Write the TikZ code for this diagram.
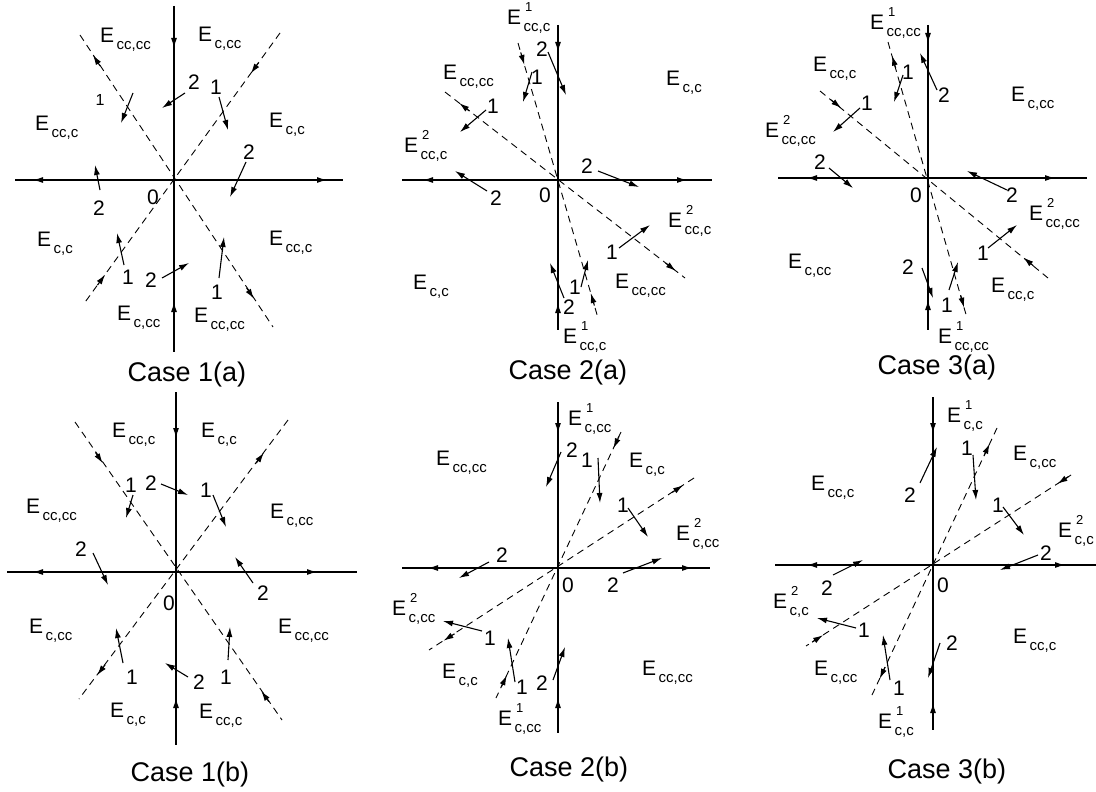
\documentclass[tikz,border=0pt]{standalone}
\usepackage{fontspec}
\setmainfont{Liberation Sans}
\usetikzlibrary{arrows.meta,calc}
\newcommand\Elab[2]{E\hspace{2.5pt}\rlap{\hspace{1.5pt}\raisebox{13pt}{\fontsize{13}{13}\selectfont #2}}\raisebox{-7pt}{\fontsize{15}{15}\selectfont #1}}
\newcommand\darrout[3]{\path ($(#1)!(#3)!(#2)$) coordinate (tmp); \draw[arr] ($(tmp)!13pt!(#1)$) -- (tmp);}
\newcommand\darrin[3]{\path ($(#1)!(#3)!(#2)$) coordinate (tmp); \draw[arr] ($(tmp)!13pt!(#2)$) -- (tmp);}
\tikzset{
  axis/.style={line width=1.2pt, black},
  dl/.style={line width=0.9pt, dash pattern=on 7pt off 5pt},
  arr/.style={line width=1.1pt, -{Latex[length=10pt,width=6pt]}},
  num/.style={inner sep=0pt, font=\fontsize{21}{21}\selectfont},
  elab/.style={anchor=base west, inner sep=0pt, font=\fontsize{21}{21}\selectfont},
  capt/.style={inner sep=0pt, font=\fontsize{27}{27}\selectfont}
}
\begin{document}
\begin{tikzpicture}[x=1pt,y=-1pt]
\useasboundingbox (0,0) rectangle (1096,792);
% ================= Case 1(a)
\coordinate (O) at (174,180);
\draw[axis] (174,6) -- (174,352);
\draw[axis] (15,180) -- (343,180);
\draw[arr] (45,180) -- (33,180);
\draw[arr] (315,180) -- (327,180);
\draw[arr] (174,36) -- (174,48);
\draw[arr] (174,314) -- (174,302);
\coordinate (A) at (80,35); \coordinate (B) at (273,327);
\coordinate (C) at (280,33); \coordinate (D) at (83,305);
\draw[dl] (A) -- (B); \draw[dl] (C) -- (D);
\darrout{O}{A}{93,55}
\darrin{O}{C}{253,75}
\darrin{O}{D}{103,273}
\darrout{O}{B}{255,298}
\draw[arr] (133,93) -- (121,123);
\draw[arr] (185,93) -- (162,108);
\draw[arr] (219,97) -- (228,130);
\draw[arr] (246,162) -- (230,197);
\draw[arr] (100,190) -- (95,165);
\draw[arr] (124,265) -- (117,233);
\draw[arr] (162,278) -- (189,263);
\draw[arr] (219,278) -- (224,237);
\node[num] (a1n1) at (100,100) {\fontsize{16}{16}\selectfont 1};
\node[num] (a1n2) at (194,82) {2};
\node[num] (a1n3) at (216,87) {1};
\node[num] (a1n4) at (249,152) {2};
\node[num] (a1n5) at (99,208) {2};
\node[num] (a1n6) at (128,277) {1};
\node[num] (a1n7) at (151,280) {2};
\node[num] (a1n8) at (217,292) {1};
\node[num] (a1n0) at (153,197) {0};
\node[elab] (a1e1) at (100,43) {\Elab{cc,cc}{}};
\node[elab] (a1e2) at (198,42) {\Elab{c,cc}{}};
\node[elab] (a1e3) at (35,131) {\Elab{cc,c}{}};
\node[elab] (a1e4) at (269,128) {\Elab{c,c}{}};
\node[elab] (a1e5) at (37,246) {\Elab{c,c}{}};
\node[elab] (a1e6) at (269,245) {\Elab{cc,c}{}};
\node[elab] (a1e7) at (117,320) {\Elab{c,cc}{}};
\node[elab] (a1e8) at (194,322) {\Elab{cc,cc}{}};
\node[capt] (a1c) at (187,375) {Case 1(a)};
% ================= Case 2(a)
\coordinate (O) at (558,180);
\draw[axis] (558,25) -- (558,330);
\draw[axis] (402,180) -- (712,180);
\draw[arr] (435,180) -- (423,180);
\draw[arr] (675,180) -- (687,180);
\draw[arr] (558,40) -- (558,52);
\draw[arr] (558,315) -- (558,303);
\coordinate (A) at (518,43); \coordinate (B) at (598,318);
\coordinate (C) at (445,92); \coordinate (D) at (685,278);
\draw[dl] (A) -- (B); \draw[dl] (C) -- (D);
\darrin{O}{A}{524,65}
\darrout{O}{C}{460,102}
\darrout{O}{D}{675,272}
\darrin{O}{B}{591,293}
\draw[arr] (548,52) -- (566,95);
\draw[arr] (532,72) -- (523,102);
\draw[arr] (486,110) -- (460,132);
\draw[arr] (598,171) -- (639,187);
\draw[arr] (487,191) -- (455,171);
\draw[arr] (619,248) -- (650,225);
\draw[arr] (581,287) -- (588,260);
\draw[arr] (564,298) -- (550,263);
\node[num] (a2n1) at (542,49) {2};
\node[num] (a2n2) at (537,77) {1};
\node[num] (a2n3) at (493,106) {1};
\node[num] (a2n4) at (587,166) {2};
\node[num] (a2n5) at (496,198) {2};
\node[num] (a2n6) at (612,252) {1};
\node[num] (a2n7) at (575,287) {1};
\node[num] (a2n8) at (569,307) {2};
\node[num] (a2n0) at (545,195) {0};
\node[elab] (a2e1) at (507,25) {\Elab{cc,c}{1}};
\node[elab] (a2e2) at (443,80) {\Elab{cc,cc}{}};
\node[elab] (a2e3) at (404,152) {\Elab{cc,c}{2}};
\node[elab] (a2e4) at (666,85) {\Elab{c,c}{}};
\node[elab] (a2e5) at (668,227) {\Elab{cc,c}{2}};
\node[elab] (a2e6) at (615,288) {\Elab{cc,cc}{}};
\node[elab] (a2e7) at (413,289) {\Elab{c,c}{}};
\node[elab] (a2e8) at (563,343) {\Elab{cc,c}{1}};
\node[capt] (a2c) at (568,373) {Case 2(a)};
% ================= Case 3(a)
\coordinate (O) at (928,178);
\draw[axis] (928,25) -- (928,330);
\draw[axis] (778,178) -- (1087,178);
\draw[arr] (819,178) -- (807,178);
\draw[arr] (1043,178) -- (1055,178);
\draw[arr] (928,31) -- (928,43);
\draw[arr] (928,312) -- (928,300);
\coordinate (A) at (888,42); \coordinate (B) at (967,318);
\coordinate (C) at (820,91); \coordinate (D) at (1048,278);
\draw[dl] (A) -- (B); \draw[dl] (C) -- (D);
\darrout{O}{A}{894,55}
\darrin{O}{C}{842,107}
\darrin{O}{D}{1023,258}
\darrout{O}{B}{963,308}
\draw[arr] (937,90) -- (920,53);
\draw[arr] (903,75) -- (894,102);
\draw[arr] (860,108) -- (833,132);
\draw[arr] (829,168) -- (853,188);
\draw[arr] (1007,190) -- (967,171);
\draw[arr] (988,248) -- (1017,225);
\draw[arr] (922,268) -- (933,298);
\draw[arr] (949,290) -- (958,262);
\node[num] (a3n1) at (944,95) {2};
\node[num] (a3n2) at (908,72) {1};
\node[num] (a3n3) at (867,103) {1};
\node[num] (a3n4) at (820,162) {2};
\node[num] (a3n5) at (1012,195) {2};
\node[num] (a3n6) at (983,253) {1};
\node[num] (a3n7) at (908,267) {2};
\node[num] (a3n8) at (947,305) {1};
\node[num] (a3n0) at (916,195) {0};
\node[elab] (a3e1) at (870,30) {\Elab{cc,cc}{1}};
\node[elab] (a3e2) at (813,72) {\Elab{cc,c}{}};
\node[elab] (a3e3) at (765,137) {\Elab{cc,cc}{2}};
\node[elab] (a3e4) at (1011,102) {\Elab{c,cc}{}};
\node[elab] (a3e5) at (1029,220) {\Elab{cc,cc}{2}};
\node[elab] (a3e6) at (991,292) {\Elab{cc,c}{}};
\node[elab] (a3e7) at (788,268) {\Elab{c,cc}{}};
\node[elab] (a3e8) at (938,343) {\Elab{cc,cc}{1}};
\node[capt] (a3c) at (937,368) {Case 3(a)};
% ================= Case 1(b)
\coordinate (O) at (176,572);
\draw[axis] (176,392) -- (176,745);
\draw[axis] (7,572) -- (357,572);
\draw[arr] (45,572) -- (33,572);
\draw[arr] (305,572) -- (317,572);
\draw[arr] (176,426) -- (176,438);
\draw[arr] (176,710) -- (176,698);
\coordinate (A) at (75,422); \coordinate (B) at (282,720);
\coordinate (C) at (288,420); \coordinate (D) at (79,699);
\draw[dl] (A) -- (B); \draw[dl] (C) -- (D);
\darrin{O}{A}{103,463}
\darrout{O}{C}{263,452}
\darrout{O}{D}{97,675}
\darrin{O}{B}{260,692}
\draw[arr] (133,495) -- (126,518);
\draw[arr] (161,484) -- (188,495);
\draw[arr] (213,495) -- (226,527);
\draw[arr] (93,553) -- (108,585);
\draw[arr] (253,583) -- (235,557);
\draw[arr] (123,663) -- (116,628);
\draw[arr] (188,677) -- (165,663);
\draw[arr] (228,660) -- (230,627);
\node[num] (b1n1) at (131,485) {1};
\node[num] (b1n2) at (151,483) {2};
\node[num] (b1n3) at (206,490) {1};
\node[num] (b1n4) at (81,549) {2};
\node[num] (b1n5) at (263,593) {2};
\node[num] (b1n6) at (132,677) {1};
\node[num] (b1n7) at (199,682) {2};
\node[num] (b1n8) at (226,677) {1};
\node[num] (b1n0) at (169,603) {0};
\node[elab] (b1e1) at (112,437) {\Elab{cc,c}{}};
\node[elab] (b1e2) at (201,437) {\Elab{c,c}{}};
\node[elab] (b1e3) at (26,513) {\Elab{cc,cc}{}};
\node[elab] (b1e4) at (270,518) {\Elab{c,cc}{}};
\node[elab] (b1e5) at (29,633) {\Elab{c,cc}{}};
\node[elab] (b1e6) at (278,633) {\Elab{cc,cc}{}};
\node[elab] (b1e7) at (110,717) {\Elab{c,c}{}};
\node[elab] (b1e8) at (199,718) {\Elab{cc,c}{}};
\node[capt] (b1c) at (190,775) {Case 1(b)};
% ================= Case 2(b)
\coordinate (O) at (558,568);
\draw[axis] (558,402) -- (558,733);
\draw[axis] (402,568) -- (710,568);
\draw[arr] (440,568) -- (428,568);
\draw[arr] (680,568) -- (692,568);
\draw[arr] (558,421) -- (558,433);
\draw[arr] (558,710) -- (558,698);
\coordinate (A) at (621,432); \coordinate (B) at (496,698);
\coordinate (C) at (694,478); \coordinate (D) at (429,650);
\draw[dl] (A) -- (B); \draw[dl] (C) -- (D);
\darrin{O}{A}{613,448}
\darrout{O}{C}{683,485}
\darrout{O}{D}{443,640}
\darrin{O}{B}{506,675}
\draw[arr] (561,452) -- (546,487);
\draw[arr] (598,458) -- (600,503);
\draw[arr] (628,508) -- (648,537);
\draw[arr] (489,562) -- (459,578);
\draw[arr] (623,573) -- (662,558);
\draw[arr] (482,631) -- (443,621);
\draw[arr] (515,682) -- (508,638);
\draw[arr] (553,680) -- (565,647);
\node[num] (b2n1) at (572,450) {2};
\node[num] (b2n2) at (587,460) {1};
\node[num] (b2n3) at (623,505) {1};
\node[num] (b2n4) at (502,555) {2};
\node[num] (b2n5) at (613,585) {2};
\node[num] (b2n6) at (490,638) {1};
\node[num] (b2n7) at (522,687) {1};
\node[num] (b2n8) at (542,683) {2};
\node[num] (b2n0) at (568,585) {0};
\node[elab] (b2e1) at (568,425) {\Elab{c,cc}{1}};
\node[elab] (b2e2) at (436,465) {\Elab{cc,cc}{}};
\node[elab] (b2e3) at (629,467) {\Elab{c,c}{}};
\node[elab] (b2e4) at (676,540) {\Elab{c,cc}{2}};
\node[elab] (b2e5) at (392,615) {\Elab{c,cc}{2}};
\node[elab] (b2e6) at (442,678) {\Elab{c,c}{}};
\node[elab] (b2e7) at (642,675) {\Elab{cc,cc}{}};
\node[elab] (b2e8) at (498,725) {\Elab{c,cc}{1}};
\node[capt] (b2c) at (569,770) {Case 2(b)};
% ================= Case 3(b)
\coordinate (O) at (933,565);
\draw[axis] (933,397) -- (933,730);
\draw[axis] (775,565) -- (1096,565);
\draw[arr] (819,565) -- (807,565);
\draw[arr] (1053,565) -- (1065,565);
\draw[arr] (933,421) -- (933,433);
\draw[arr] (933,715) -- (933,703);
\coordinate (A) at (997,428); \coordinate (B) at (872,695);
\coordinate (C) at (1071,475); \coordinate (D) at (806,646);
\draw[dl] (A) -- (B); \draw[dl] (C) -- (D);
\darrout{O}{A}{988,443}
\darrin{O}{C}{1057,483}
\darrin{O}{D}{823,635}
\darrout{O}{B}{878,678}
\draw[arr] (920,483) -- (937,447);
\draw[arr] (973,455) -- (976,500);
\draw[arr] (1003,507) -- (1024,535);
\draw[arr] (1038,555) -- (1000,570);
\draw[arr] (833,575) -- (863,560);
\draw[arr] (856,628) -- (817,618);
\draw[arr] (890,680) -- (883,635);
\draw[arr] (940,643) -- (928,678);
\node[num] (b3n1) at (910,495) {2};
\node[num] (b3n2) at (967,448) {1};
\node[num] (b3n3) at (998,505) {1};
\node[num] (b3n4) at (1046,553) {2};
\node[num] (b3n5) at (827,588) {2};
\node[num] (b3n6) at (864,630) {1};
\node[num] (b3n7) at (899,688) {1};
\node[num] (b3n8) at (952,643) {2};
\node[num] (b3n0) at (943,585) {0};
\node[elab] (b3e1) at (947,422) {\Elab{c,c}{1}};
\node[elab] (b3e2) at (1013,460) {\Elab{c,cc}{}};
\node[elab] (b3e3) at (811,490) {\Elab{cc,c}{}};
\node[elab] (b3e4) at (1058,537) {\Elab{c,c}{2}};
\node[elab] (b3e5) at (773,608) {\Elab{c,c}{2}};
\node[elab] (b3e6) at (814,675) {\Elab{c,cc}{}};
\node[elab] (b3e7) at (1013,643) {\Elab{cc,c}{}};
\node[elab] (b3e8) at (878,728) {\Elab{c,c}{1}};
\node[capt] (b3c) at (947,772) {Case 3(b)};
\end{tikzpicture}
\end{document}
